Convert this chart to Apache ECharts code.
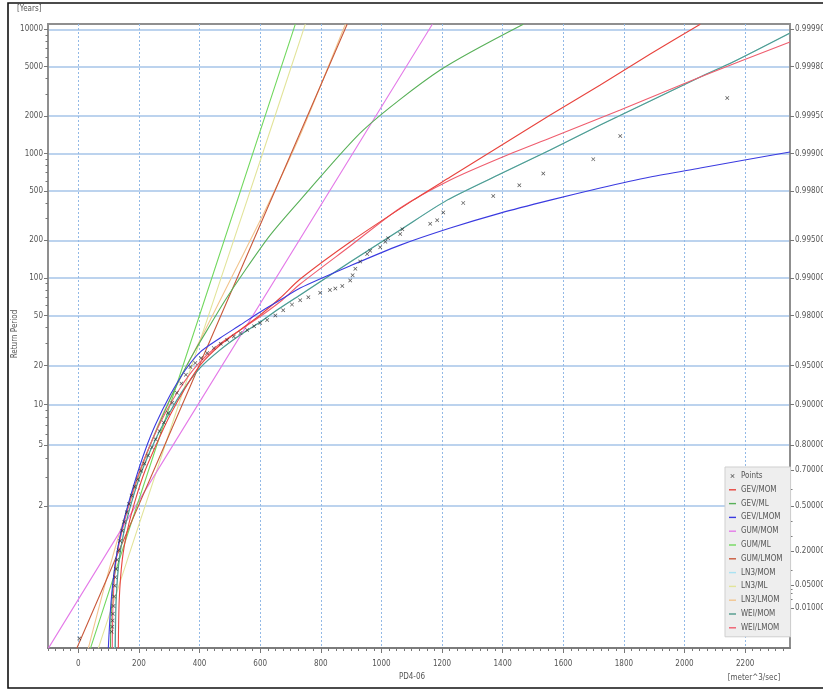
<!DOCTYPE html>
<html><head><meta charset="utf-8">
<script src="https://cdn.jsdelivr.net/npm/echarts@6/dist/echarts.min.js"></script>
<style>html,body{margin:0;padding:0;background:#fff}#c{width:823px;height:690px}</style>
</head><body><div id="c"></div>
<script>
// ---- tick labels ----
const xTickLabels = [0,200,400,600,800,1000,1200,1400,1600,1800,2000,2200];
const xMinorTicks = [];
for (let v = -100; v <= 2340; v += 25) xMinorTicks.push(v);
const yTickLabels = [2,5,10,20,50,100,200,500,1000,2000,5000,10000];
const yMinorTicks = [3,4,6,7,8,9,30,40,60,70,80,90,300,400,600,700,800,900,3000,4000,6000,7000,8000,9000];
const probTickLabels = [0.01,0.05,0.2,0.5,0.7,0.8,0.9,0.95,0.98,0.99,0.995,0.998,0.999,0.9995,0.9998,0.9999];
const probMinorTicks = [0.02,0.03,0.04,0.1,0.3,0.4,0.6];

// ---- data: [discharge m^3/s, return period years] ----
const points = [[3,1.0003],[110,1.0008],[112,1.0015],[113,1.003],[114,1.006],[116,1.012],[118,1.025],[120,1.05],[122,1.08],[125,1.12],[128,1.18],[133,1.26],[138,1.36],[145,1.5],[152,1.65],[160,1.85],[167,2.05],[176,2.3],[186,2.6],[196,2.9],[207,3.3],[218,3.7],[230,4.2],[243,4.8],[255,5.5],[268,6.3],[282,7.3],[296,8.6],[310,10.3],[325,12.3],[340,14.5],[355,17],[370,19.5],[386,21],[405,23],[425,25.2],[447,27.5],[470,29.8],[491,31.9],[513,34],[535,36.2],[557,38.3],[580,41],[600,43.5],[623,46],[650,50],[676,55],[705,61],[732,66],[759,70],[798,76],[830,80],[848,82],[871,86],[897,95],[905,105],[914,118],[930,135],[953,155],[963,165],[996,176],[1013,195],[1022,208],[1062,225],[1069,245],[1161,272],[1184,290],[1204,335],[1270,400],[1369,455],[1455,555],[1534,690],[1699,900],[1788,1380],[2141,2800]];

const gevMom = [[132,1.00006],[135,1.0193],[145,1.179],[162,1.51],[188,2.16],[221,3.34],[264,5.43],[303,8.32],[353,13.4],[402,20.2],[468,29.1],[534,38.3],[600,50.4],[666,68.9],[732,97.8],[897,194],[1105,421],[1227,646],[1392,1149],[1557,2040],[1722,3560],[1887,6330],[2052,11000]];
const gevMl = [[106,1.00006],[109,1.0085],[119,1.115],[139,1.438],[165,2.03],[198,3.09],[237,5.0],[287,9.08],[336,16.0],[386,26.6],[435,41.9],[485,66.4],[551,115.5],[633,220],[732,421],[940,1543],[1194,4700],[1468,11000]];
const gevLmom = [[99,1.00006],[106,1.0085],[115,1.069],[132,1.315],[155,1.79],[188,2.87],[221,4.6],[254,6.99],[303,11.8],[353,18.5],[402,25.6],[468,33.1],[534,41.9],[600,53.3],[666,66.4],[732,82.9],[897,124.8],[1062,183],[1227,251],[1392,331],[1557,421],[1722,527],[1887,646],[2052,763],[2217,901],[2348,1027]];
const gumMom = [[-99,1.00006],[313,5],[1168,11000]];
const gumMl = [[40,1.00006],[193,2],[716,11000]];
const gumLmom = [[-5,1.00006],[198,2],[887,11000]];
const ln3Mom = [[120,1.00006],[124,1.0193],[134,1.179],[151,1.51],[177,2.16],[210,3.34],[253,5.43],[296,8.32],[345,12.9],[401,19.2],[467,26.6],[533,34.9],[599,44.3],[665,57.3],[731,72.8],[896,134],[1061,242],[1216,421],[1391,683],[1556,1065],[1721,1694],[1886,2645],[2051,4130],[2159,5450],[2348,9300]];
const ln3Ml = [[66,1.00006],[303,6.42],[557,421],[749,11000]];
const ln3Lmom = [[33,1.00006],[139,1.51],[270,7.62],[402,31.9],[518,115.5],[617,350],[732,1408],[881,11000]];
const weiMom = [[122,1.00006],[125,1.0193],[135,1.179],[152,1.51],[178,2.16],[211,3.34],[254,5.43],[297,8.32],[346,12.9],[402,19.2],[468,26.6],[534,34.9],[600,44.3],[666,57.3],[732,72.8],[897,134],[1062,242],[1217,421],[1392,683],[1557,1065],[1722,1694],[1887,2645],[2052,4130],[2160,5450],[2348,9340]];
const weiLmom = [[112,1.00006],[115,1.0193],[125,1.179],[145,1.51],[172,2.16],[204,3.34],[244,5.43],[287,8.61],[336,13.4],[392,20.2],[462,29.1],[534,38.3],[607,50.4],[673,66.4],[732,89.2],[897,180],[1062,364],[1227,611],[1392,919],[1557,1331],[1788,2238],[2052,4130],[2348,7910]];

// ---- transforms (Gumbel reduced variate) ----
const vOfT = T => -Math.log(-Math.log(1 - 1 / T));
const vOfP = P => -Math.log(-Math.log(P));
const Y_MIN = -2.268, Y_MAX = 9.309;
const X_MIN = -100, X_MAX = 2348;

const yTickV = yTickLabels.map(vOfT);
const yMinorV = yMinorTicks.map(vOfT);
const pTickV = probTickLabels.map(vOfP);
const pMinorV = probMinorTicks.map(vOfP);

const FONT = "'Liberation Sans Narrow', 'DejaVu Sans Condensed', sans-serif";
const TXT = '#555';

function nearestLabel(v, vals, labels) {
  let bi = 0, bd = Infinity;
  vals.forEach((u, i) => { const d = Math.abs(u - v); if (d < bd) { bd = d; bi = i; } });
  return labels[bi];
}

const curveDefs = [
  ['GEV/MOM', gevMom, '#e8443e', 0.25],
  ['GEV/ML', gevMl, '#58b058', 0.25],
  ['GEV/LMOM', gevLmom, '#3a3ae0', 0.25],
  ['GUM/MOM', gumMom, '#e47ae8', 0],
  ['GUM/ML', gumMl, '#72d85e', 0],
  ['GUM/LMOM', gumLmom, '#c95a3c', 0],
  ['LN3/MOM', ln3Mom, '#a9e2f2', 0.25],
  ['LN3/ML', ln3Ml, '#e2e49a', 0.25],
  ['LN3/LMOM', ln3Lmom, '#f2c48e', 0.25],
  ['WEI/MOM', weiMom, '#4f9a8c', 0.25],
  ['WEI/LMOM', weiLmom, '#ef5d6e', 0.25]
];
const drawOrder = ['LN3/MOM','LN3/ML','LN3/LMOM','GUM/MOM','GUM/ML','GUM/LMOM','GEV/ML','WEI/MOM','WEI/LMOM','GEV/MOM','GEV/LMOM'];

const series = curveDefs.map(([name, data, color, sm]) => ({
  name, type: 'line', xAxisIndex: 0, yAxisIndex: 0,
  data: data.map(([x, T]) => [x, vOfT(T)]),
  showSymbol: false, symbol: 'none', smooth: sm, clip: true,
  lineStyle: { color, width: 1.1 }, itemStyle: { color },
  z: 3 + drawOrder.indexOf(name) * 0.01, silent: true
}));
const XPATH = 'path://M0,1.2L1.2,0L5,3.8L8.8,0L10,1.2L6.2,5L10,8.8L8.8,10L5,6.2L1.2,10L0,8.8L3.8,5Z';
series.push({
  name: 'Points', type: 'scatter', xAxisIndex: 0, yAxisIndex: 0,
  data: points.map(([x, T]) => [x, vOfT(T)]),
  symbol: XPATH, symbolSize: 4, itemStyle: { color: '#2a2a2a' }, z: 5, silent: true
});

const LINEPATH = 'path://M0,0h10v2h-10z';
const legendData = [{ name: 'Points', icon: XPATH }].concat(curveDefs.map(d => ({ name: d[0], icon: LINEPATH })));

const chart = echarts.init(document.getElementById('c'), null, { renderer: 'canvas' });
chart.setOption({
  animation: false,
  backgroundColor: '#fff',
  grid: { left: 48, top: 24, width: 742, height: 624, show: true, containLabel: false, outerBoundsMode: 'none',
    borderColor: '#8f8f8f', borderWidth: 2, backgroundColor: 'transparent' },
  xAxis: [
    { type: 'value', min: X_MIN, max: X_MAX, position: 'bottom',
      axisLine: { show: true, onZero: false, lineStyle: { color: '#777', width: 1.5 } },
      axisTick: { show: true, customValues: xTickLabels, length: 5, lineStyle: { color: '#777' } },
      axisLabel: { customValues: xTickLabels, fontSize: 8, color: TXT, fontFamily: FONT, margin: 12, formatter: v => String(Math.round(v)) },
      splitLine: { show: true, lineStyle: { color: '#92b9e6', width: 1, type: [2, 2] } } },
    { type: 'value', min: X_MIN, max: X_MAX, position: 'bottom',
      axisLine: { show: false, onZero: false }, axisLabel: { show: false }, splitLine: { show: false },
      axisTick: { show: true, customValues: xMinorTicks, length: 3, lineStyle: { color: '#777' } } }
  ],
  yAxis: [
    { type: 'value', min: Y_MIN, max: Y_MAX, position: 'left',
      axisLine: { show: true, onZero: false, lineStyle: { color: '#8f8f8f', width: 2 } },
      axisTick: { show: true, customValues: yTickV, length: 4, lineStyle: { color: '#777' } },
      axisLabel: { customValues: yTickV, fontSize: 8, color: TXT, fontFamily: FONT, margin: 5,
        formatter: v => String(nearestLabel(v, yTickV, yTickLabels)) },
      splitLine: { show: true, lineStyle: { color: '#bcd3ee', width: 2 } } },
    { type: 'value', min: Y_MIN, max: Y_MAX, position: 'right',
      axisLine: { show: true, onZero: false, lineStyle: { color: '#8f8f8f', width: 2 } },
      axisTick: { show: true, customValues: pTickV, length: 4, lineStyle: { color: '#777' } },
      axisLabel: { customValues: pTickV, fontSize: 8, color: TXT, fontFamily: FONT, margin: 5,
        formatter: v => nearestLabel(v, pTickV, probTickLabels).toFixed(5) },
      splitLine: { show: false } },
    { type: 'value', min: Y_MIN, max: Y_MAX, position: 'left',
      axisLine: { show: false, onZero: false }, axisLabel: { show: false }, splitLine: { show: false },
      axisTick: { show: true, customValues: yMinorV, length: 2.5, lineStyle: { color: '#777' } } },
    { type: 'value', min: Y_MIN, max: Y_MAX, position: 'right',
      axisLine: { show: false, onZero: false }, axisLabel: { show: false }, splitLine: { show: false },
      axisTick: { show: true, customValues: pMinorV, length: 2.5, lineStyle: { color: '#777' } } }
  ],
  legend: {
    data: legendData, orient: 'vertical', left: 725, top: 467,
    itemWidth: 7, itemHeight: 4, itemGap: 3.8, itemTextGap: 3,
    padding: [4, 8, 4, 4], backgroundColor: '#eeeeee', borderColor: '#cfcfcf', borderWidth: 1,
    textStyle: { fontSize: 8, color: TXT, fontFamily: FONT, lineHeight: 10 },
    selectedMode: false, symbolKeepAspect: true
  },
  graphic: [
    { type: 'rect', shape: { x: 8, y: 3, width: 830, height: 685 }, style: { fill: 'none', stroke: '#111', lineWidth: 1.6 }, silent: true, z: 100 },
    { type: 'text', left: 17, top: 5, style: { text: '[Years]', fontSize: 8, fill: TXT, fontFamily: FONT }, silent: true },
    { type: 'text', x: 15, y: 334, rotation: Math.PI / 2, style: { text: 'Return Period', fontSize: 8, fill: TXT, fontFamily: FONT, align: 'center', verticalAlign: 'middle' }, silent: true },
    { type: 'text', x: 412, y: 677, style: { text: 'PD4-06', fontSize: 8, fill: TXT, fontFamily: FONT, align: 'center', verticalAlign: 'middle' }, silent: true },
    { type: 'text', x: 754, y: 678, style: { text: '[meter^3/sec]', fontSize: 8, fill: TXT, fontFamily: FONT, align: 'center', verticalAlign: 'middle' }, silent: true }
  ],
  series
});
</script></body></html>
